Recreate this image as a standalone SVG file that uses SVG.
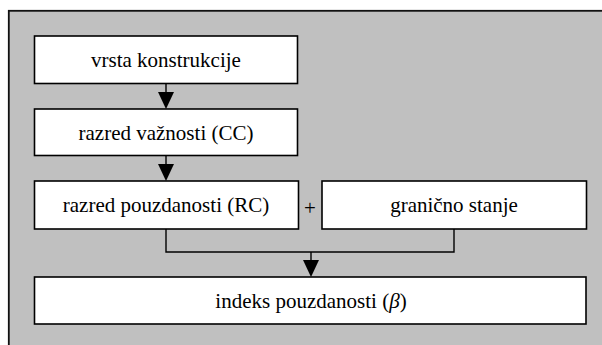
<svg xmlns="http://www.w3.org/2000/svg" width="602" height="345" viewBox="0 0 602 345">
<style>
.box{fill:#ffffff;stroke:#000000;stroke-width:1.6}
.lbl{font-family:'Liberation Serif','Times New Roman',serif;font-size:21px;fill:#000000;text-anchor:middle}
.conn{fill:none;stroke:#000000;stroke-width:1.4}
.head{fill:#000000}
</style>
<rect id="background" x="8.8" y="10.8" width="600" height="340" fill="#c0c0c0" stroke="#111111" stroke-width="1.8"/>
<g id="connectors">
<line class="conn" x1="166" y1="83.5" x2="166" y2="94"/>
<path class="head" d="M158,92 L174,92 L166,109 Z"/>
<line class="conn" x1="166" y1="155.5" x2="166" y2="166"/>
<path class="head" d="M158,164 L174,164 L166,181 Z"/>
<path class="conn" d="M166,229 L166,252 L454,252 L454,229"/>
<line class="conn" x1="311" y1="252" x2="311" y2="262"/>
<path class="head" d="M303,260 L319,260 L311,277 Z"/>
</g>
<g id="n1">
<rect class="box" x="34.5" y="36" width="263" height="47.5"/>
<text class="lbl" x="166" y="67">vrsta konstrukcije</text>
</g>
<g id="n2">
<rect class="box" x="34.5" y="109" width="263" height="46.5"/>
<text class="lbl" x="166" y="139.5">razred važnosti (CC)</text>
</g>
<g id="n3">
<rect class="box" x="34.5" y="181" width="264" height="48"/>
<text class="lbl" x="166" y="212">razred pouzdanosti (RC)</text>
</g>
<text id="plus" class="lbl" x="310" y="214.5">+</text>
<g id="n4">
<rect class="box" x="322" y="181" width="264.5" height="48"/>
<text class="lbl" x="454" y="212">granično stanje</text>
</g>
<g id="n5">
<rect class="box" x="34.5" y="277" width="551.5" height="47"/>
<text class="lbl" x="311" y="307.5">indeks pouzdanosti (<tspan font-style="italic">β</tspan>)</text>
</g>
</svg>
